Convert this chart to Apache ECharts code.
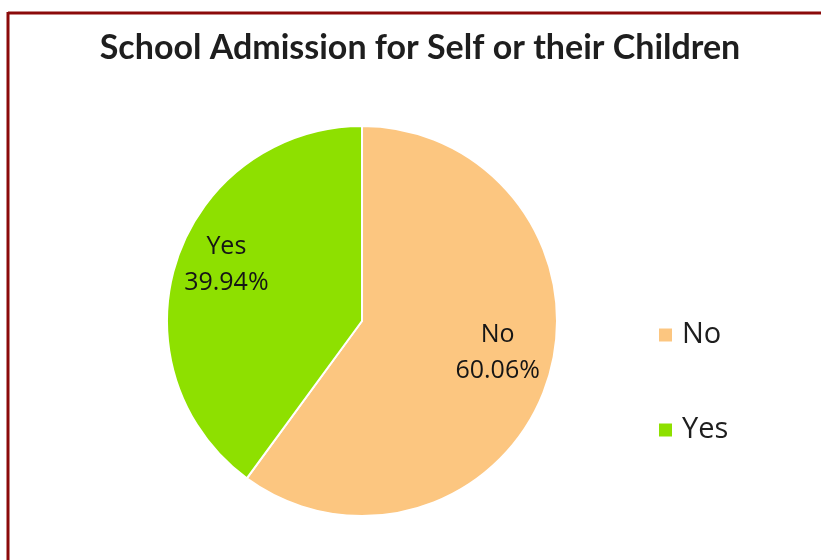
<!DOCTYPE html>
<html>
<head>
<meta charset="utf-8">
<script src="https://cdn.jsdelivr.net/npm/echarts@6/dist/echarts.min.js"></script>
<style>
  html, body { margin: 0; padding: 0; background: #fff; }
  #chart { width: 821px; height: 560px; }
</style>
</head>
<body>
<div id="chart"></div>
<script>
var categories = ['No', 'Yes'];
var shares = [60.06, 39.94];
var sliceColors = ['#fcc680', '#8ee000'];

var pieCenter = [362, 321];

var pieData = [];
for (var i = 0; i < categories.length; i++) {
    pieData.push({
        name: categories[i],
        value: shares[i],
        itemStyle: { color: sliceColors[i] }
    });
}

var chart = echarts.init(document.getElementById('chart'));

var option = {
    backgroundColor: '#fff',
    title: {
        text: 'School Admission for Self or their Children',
        left: 415,
        textAlign: 'center',
        top: 26,
        textStyle: {
            fontFamily: 'Lato',
            fontSize: 34,
            fontWeight: 'bold',
            color: '#1e1e1e'
        }
    },
    legend: {
        orient: 'vertical',
        left: 652,
        top: 315,
        itemWidth: 15,
        itemHeight: 15,
        itemGap: 65,
        icon: 'rect',
        data: categories,
        textStyle: {
            fontFamily: 'Open Sans',
            fontSize: 29,
            lineHeight: 30,
            color: '#1e1e1e',
            padding: [0, 0, 0, 4]
        }
    },
    graphic: [
        { type: 'line', shape: { x1: 8, y1: 13, x2: 821, y2: 13 }, style: { stroke: '#8b0a0a', lineWidth: 3 } },
        { type: 'line', shape: { x1: 8, y1: 12, x2: 8, y2: 560 }, style: { stroke: '#8b0a0a', lineWidth: 3 } }
    ],
    series: [{
        type: 'pie',
        center: pieCenter,
        radius: 195,
        startAngle: 90,
        clockwise: true,
        silent: true,
        itemStyle: { borderColor: '#fff', borderWidth: 2 },
        label: {
            show: true,
            position: 'inside',
            fontFamily: 'Open Sans',
            fontSize: 25,
            lineHeight: 36,
            color: '#151515',
            formatter: function (p) {
                return p.name + '\n' + p.value.toFixed(2) + '%';
            }
        },
        // push the inside labels further out from the centre
        labelLayout: function (p) {
            var r = p.labelRect;
            var lx = r.x + r.width / 2;
            var ly = r.y + r.height / 2;
            return {
                dx: (lx - pieCenter[0]) * 0.42,
                dy: (ly - pieCenter[1]) * 0.42 - 12
            };
        },
        labelLine: { show: false },
        data: pieData
    }]
};

chart.setOption(option);
</script>
</body>
</html>
